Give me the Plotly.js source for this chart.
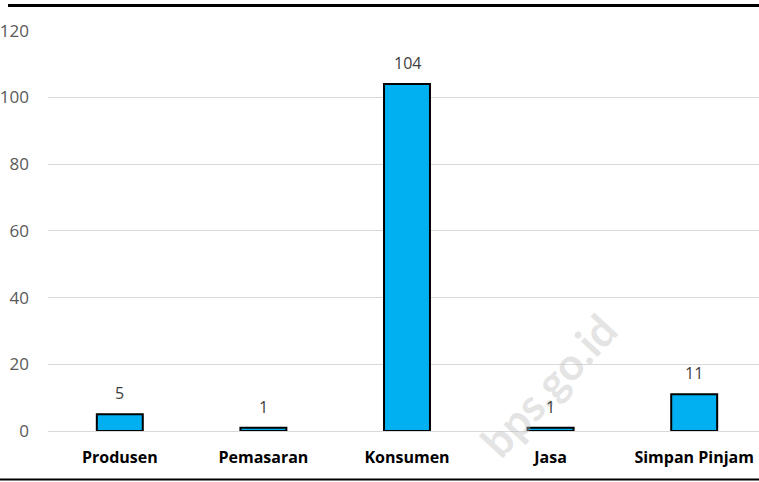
<!DOCTYPE html>
<html>
<head>
<meta charset="utf-8">
<script src="https://cdn.plot.ly/plotly-3.0.1.min.js"></script>
<style>
html,body{margin:0;padding:0;overflow:hidden;background:#fff;}
#chart{width:767px;height:482px;}
</style>
</head>
<body>
<div id="chart"></div>
<script>
const categories = ["Produsen", "Pemasaran", "Konsumen", "Jasa", "Simpan Pinjam"];
const values = [5, 1, 104, 1, 11];
const yTicks = [0, 20, 40, 60, 80, 100, 120];

const FONT = "'Open Sans', Lato, sans-serif";

const trace = {
  type: "bar",
  x: categories,
  y: values,
  marker: {color: "#00B0F0", line: {color: "#000000", width: 2}},
  hoverinfo: "none"
};

const valueLabels = categories.map((c, i) => ({
  x: c, y: values[i], xref: "x", yref: "y",
  text: String(values[i]), showarrow: false,
  yanchor: "bottom", yshift: 8,
  font: {family: FONT, size: 16, color: "#404040"}
}));

const layout = {
  width: 767,
  height: 482,
  margin: {l: 48, r: 1, t: 30, b: 51},
  paper_bgcolor: "#ffffff",
  plot_bgcolor: "#ffffff",
  bargap: 0.68,
  showlegend: false,
  font: {family: FONT},
  xaxis: {
    showgrid: false,
    zeroline: false,
    showline: false,
    ticks: "",
    ticklabelstandoff: 15,
    tickfont: {family: FONT, size: 16, color: "#000000", weight: "bold"}
  },
  yaxis: {
    range: [0, 120.2],
    tickvals: yTicks,
    ticktext: yTicks.map(String),
    showgrid: true,
    gridcolor: "#d9d9d9",
    gridwidth: 1,
    zeroline: true,
    zerolinecolor: "#d9d9d9",
    zerolinewidth: 1,
    showline: false,
    ticks: "",
    ticklabelstandoff: 18,
    tickfont: {family: FONT, size: 17, color: "#595959"}
  },
  shapes: [
    {type: "line", xref: "paper", yref: "paper", x0: -0.0557, x1: 1.01, y0: 1.0611, y1: 1.0611, line: {color: "#000", width: 3}},
    {type: "line", xref: "paper", yref: "paper", x0: -0.07, x1: 1.01, y0: -0.1209, y1: -0.1209, line: {color: "#000", width: 2}}
  ],
  annotations: [
    {xref: "paper", yref: "paper", x: (548 - 48) / 718, y: 1 - (385 - 30) / 401, xanchor: "center", yanchor: "middle",
     text: "bps.go.id", showarrow: false, textangle: -47,
     font: {family: "Lato, sans-serif", size: 44, color: "rgba(190,190,190,0.42)", weight: "bold"}}
  ].concat(valueLabels)
};

Plotly.newPlot("chart", [trace], layout, {displayModeBar: false, staticPlot: true});
</script>
</body>
</html>
